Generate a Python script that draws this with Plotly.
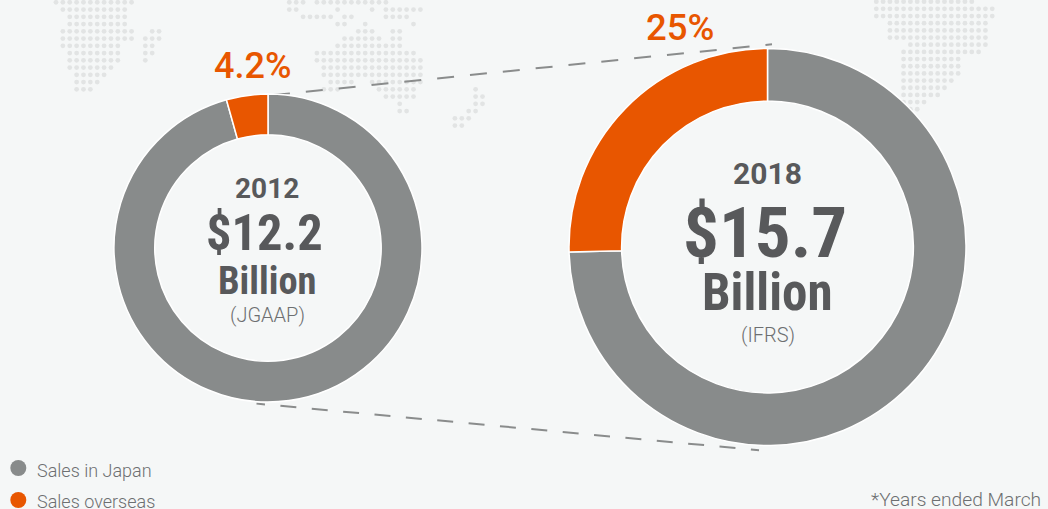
import plotly.graph_objects as go

W, H = 1048, 509
BG = "#f5f7f7"
GRAY = "#888b8b"
ORANGE = "#e85600"
DARK = "#58595b"
SOFT = "#6d6f71"
DOT = "#e2e4e4"
DASH = "#8a8c8c"
CONDENSED = "Liberation Sans Narrow, Roboto Condensed, Roboto, sans-serif"
BODY = "Roboto, sans-serif"

# ---- data ----
slice_labels = ["Sales in Japan", "Sales overseas"]
values_2012 = [95.65, 4.35]
values_2018 = [74.6, 25.4]
share_2012 = "4.2%"
share_2018 = "25%"
year_2012, total_2012, gaap_2012 = "2012", "$12.2", "(JGAAP)"
year_2018, total_2018, gaap_2018 = "2018", "$15.7", "(IFRS)"
unit = "Billion"
footnote = "*Years ended March"

# decorative dot map: per row, inclusive column spans
map_west = [[(0, 11)], [(1, 10)], [(2, 10)], [(2, 10)],
            [(1, 11), (14, 15)], [(1, 11), (13, 15)], [(1, 9), (13, 14)],
            [(2, 9), (13, 14)], [(2, 9), (13, 13)], [(2, 8)], [(3, 7)], [(3, 6)], [(3, 5)]]
map_mid = [[(0, 2), (4, 14)], [(0, 1), (7, 7), (12, 12), (14, 19)],
           [(2, 6), (8, 9), (14, 17)], [(7, 8), (11, 11), (18, 18)],
           [(10, 12), (15, 16)], [(8, 13), (15, 16)], [(7, 16)], [(4, 18)], [(4, 19)],
           [(5, 19)], [(5, 19)], [(6, 9), (12, 19)], [(5, 7), (13, 18), (27, 27)],
           [(14, 18), (27, 28)], [(16, 16), (27, 28)], [(16, 17), (26, 27)],
           [(24, 26)], [(24, 25)]]
map_east = [[(0, 14)], [(0, 17)], [(0, 17)], [(2, 16)], [(2, 16)], [(2, 16)], [(5, 16)],
            [(4, 15)], [(4, 12)], [(4, 12)], [(4, 12)], [(4, 11)], [(4, 10)], [(4, 9)],
            [(4, 7)], [(5, 6)]]


def dots(rows, x0, y0, dx, dy):
    xs, ys = [], []
    for r, spans in enumerate(rows):
        for a, b in spans:
            for c in range(a, b + 1):
                xs.append(x0 + c * dx)
                ys.append(y0 + r * dy)
    return xs, ys


fig = go.Figure()

gx, gy = [], []
for rows, geo in ((map_west, (56, 2.3, 6.87, 7.25)),
                  (map_mid, (289.3, 2.3, 6.9, 7.25)),
                  (map_east, (876.3, 1.7, 6.82, 7.17))):
    a, b = dots(rows, *geo)
    gx += a
    gy += b
fig.add_trace(go.Scatter(x=gx, y=gy, mode="markers", hoverinfo="skip", showlegend=False,
                         marker=dict(color=DOT, size=4.8, line=dict(width=0))))

# connector lines between the rings
fig.add_trace(go.Scatter(x=[273, 772], y=[95.1, 44.3], mode="lines", hoverinfo="skip", showlegend=False,
                         line=dict(color=DASH, width=2, dash="17px,16px")))
bottom_dash = "8.5px,15.5px," + ",".join(["16px,15.5px"] * 20)
fig.add_trace(go.Scatter(x=[256.5, 759], y=[403.6, 450.2], mode="lines", hoverinfo="skip", showlegend=False,
                         line=dict(color=DASH, width=2, dash=bottom_dash)))

# legend markers
fig.add_trace(go.Scatter(x=[18.3, 18.3], y=[468, 500], mode="markers", hoverinfo="skip", showlegend=False,
                         marker=dict(color=[GRAY, ORANGE], size=16, line=dict(width=0))))


def ring(values, cx, cy, r):
    return go.Pie(labels=slice_labels, values=values, sort=False, direction="clockwise", rotation=0,
                  hole=0.735, textinfo="none", hoverinfo="skip", showlegend=False,
                  marker=dict(colors=[GRAY, ORANGE], line=dict(color="#ffffff", width=1.5)),
                  domain=dict(x=[(cx - r) / W, (cx + r) / W], y=[1 - (cy + r) / H, 1 - (cy - r) / H]))


fig.add_trace(ring(values_2012, 268, 248, 154))
fig.add_trace(ring(values_2018, 767.5, 247, 198.5))


def label(x, y, text, size, color=DARK, family=BODY, weight=400, anchor="center"):
    fig.add_annotation(x=x, y=y, xref="x", yref="y", text=text, showarrow=False, xanchor=anchor, yanchor="middle",
                       font=dict(family=family, size=size, color=color, weight=weight))


label(35, 470, slice_labels[0], 18, SOFT, weight=300, anchor="left")
label(35, 501, slice_labels[1], 18, SOFT, weight=300, anchor="left")
label(252, 66, share_2012, 36, ORANGE, weight=500)
label(680, 27, share_2018, 36.5, ORANGE, weight=500)
label(267, 188, year_2012, 28, DARK, weight=700)
label(264, 232, total_2012, 50.5, DARK, CONDENSED, 700)
label(267, 280, unit, 38.5, DARK, CONDENSED, 700)
label(267, 315, gaap_2012, 20, SOFT, weight=300)
label(767, 173, year_2018, 30, DARK, weight=700)
label(765, 232, total_2018, 71, DARK, CONDENSED, 700)
label(767, 292, unit, 51, DARK, CONDENSED, 700)
label(768, 335, gaap_2018, 20, SOFT, weight=300)
label(1043, 499.5, footnote, 19.2, SOFT, weight=300, anchor="right")

fig.update_layout(width=W, height=H, margin=dict(l=0, r=0, t=0, b=0), autosize=False,
                  paper_bgcolor=BG, plot_bgcolor=BG, showlegend=False,
                  xaxis=dict(range=[0, W], visible=False, fixedrange=True),
                  yaxis=dict(range=[H, 0], visible=False, fixedrange=True))

fig.write_html("out.html", config=dict(displayModeBar=False),
               post_script="document.body.style.margin='0';document.documentElement.style.overflow='hidden';")
